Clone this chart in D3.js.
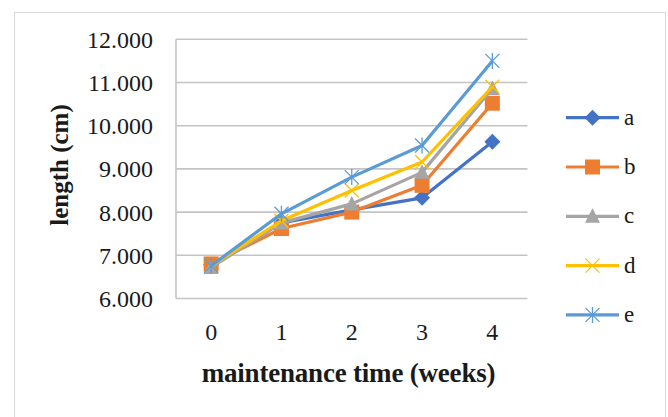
<!DOCTYPE html>
<html>
<head>
<meta charset="utf-8">
<script src="https://cdn.jsdelivr.net/npm/d3@7"></script>
<style>
	body { margin: 0; background: #fff; }
	text { font-family: "Liberation Serif", serif; fill: #1a1a1a; }
</style>
</head>
<body>
<div class="chart"></div>
<script>
// data
var weeks = ["0", "1", "2", "3", "4"];
var series_names = ["a", "b", "c", "d", "e"];
var a_vals = [6.78, 7.75, 8.05, 8.33, 9.63];
var b_vals = [6.80, 7.62, 8.00, 8.62, 10.52];
var c_vals = [6.72, 7.75, 8.19, 8.92, 10.86];
var d_vals = [6.76, 7.80, 8.50, 9.16, 10.90];
var e_vals = [6.76, 7.96, 8.81, 9.54, 11.50];
var y_ticks = [6, 7, 8, 9, 10, 11, 12];

var colors = ["#4472c4", "#ed7d31", "#a5a5a5", "#ffc000", "#5b9bd5"];
var shapes = ["diamond", "square", "triangle", "x", "star"];

var series = [a_vals, b_vals, c_vals, d_vals, e_vals].map(function(vals, i){
	return { name: series_names[i], values: vals, color: colors[i], shape: shapes[i] };
});

var W = 668, H = 417;
var plot = {left: 176, right: 527.5, top: 39.3, bottom: 298.5};

var svg = d3.select(".chart").append("svg")
	.attr("width", W)
	.attr("height", H);

// outer frame
svg.append("rect")
	.attr("x", 14.5).attr("y", 12.5)
	.attr("width", 651).attr("height", 420)
	.style("fill", "none")
	.style("stroke", "#d9d9d9")
	.style("stroke-width", 1);

var x = d3.scalePoint()
	.domain(weeks)
	.range([plot.left, plot.right])
	.padding(0.5);

var y = d3.scaleLinear()
	.domain([6, 12])
	.range([plot.bottom, plot.top]);

// gridlines
svg.append("g").selectAll("line")
	.data(y_ticks)
	.enter().append("line")
		.attr("x1", plot.left)
		.attr("x2", plot.right)
		.attr("y1", function(d){ return y(d); })
		.attr("y2", function(d){ return y(d); })
		.style("stroke", "#c4c4c4")
		.style("stroke-width", 1.6);

// left axis line
svg.append("line")
	.attr("x1", plot.left).attr("x2", plot.left)
	.attr("y1", plot.top).attr("y2", plot.bottom)
	.style("stroke", "#c4c4c4")
	.style("stroke-width", 1.6);

// y tick labels
var fmt = d3.format(".3f");
svg.append("g").selectAll("text")
	.data(y_ticks)
	.enter().append("text")
		.attr("x", 153)
		.attr("y", function(d){ return y(d) + 8.5; })
		.attr("text-anchor", "end")
		.style("font-size", "24px")
		.text(function(d){ return fmt(d); });

// x tick labels
svg.append("g").selectAll("text")
	.data(weeks)
	.enter().append("text")
		.attr("x", function(d){ return x(d); })
		.attr("y", 339.5)
		.attr("text-anchor", "middle")
		.style("font-size", "24px")
		.text(function(d){ return d; });

// axis titles
svg.append("text")
	.attr("x", 348.5)
	.attr("y", 381.5)
	.attr("text-anchor", "middle")
	.style("font-size", "27px")
	.style("font-weight", "bold")
	.style("letter-spacing", "-0.2px")
	.text("maintenance time (weeks)");

svg.append("text")
	.attr("transform", "translate(67.5,165) rotate(-90)")
	.attr("text-anchor", "middle")
	.style("font-size", "25px")
	.style("font-weight", "bold")
	.text("length (cm)");

function drawMarker(g, shape, color){
	var s = 8;
	if (shape == "diamond"){
		g.append("path").attr("d", "M0," + (-s) + "L" + s + ",0L0," + s + "L" + (-s) + ",0Z")
			.style("fill", color);
	} else if (shape == "square"){
		g.append("rect").attr("x", -7.5).attr("y", -7.5).attr("width", 15).attr("height", 15)
			.style("fill", color);
	} else if (shape == "triangle"){
		g.append("path").attr("d", "M0,-8L7.5,6.5L-7.5,6.5Z")
			.style("fill", color);
	} else {
		var r = 7;
		var p = "M" + (-r) + "," + (-r) + "L" + r + "," + r + "M" + (-r) + "," + r + "L" + r + "," + (-r);
		if (shape == "star") p += "M0," + (-r - 1) + "L0," + (r + 1);
		g.append("path").attr("d", p)
			.style("fill", "none")
			.style("stroke", color)
			.style("stroke-width", 1.3);
	}
}

var line = d3.line()
	.x(function(d, i){ return x(weeks[i]); })
	.y(function(d){ return y(d); });

series.forEach(function(s){
	var g = svg.append("g").attr("class", "series series-" + s.name);
	g.append("path")
		.attr("d", line(s.values))
		.style("fill", "none")
		.style("stroke", s.color)
		.style("stroke-width", 3.2)
		.style("stroke-linejoin", "round");
	s.values.forEach(function(v, i){
		var m = g.append("g").attr("transform", "translate(" + x(weeks[i]) + "," + y(v) + ")");
		drawMarker(m, s.shape, s.color);
	});
});

// legend
var legend = svg.append("g").selectAll("g")
	.data(series)
	.enter().append("g")
		.attr("transform", function(d, i){ return "translate(566," + (117.7 + i * 49.3) + ")"; });

legend.append("line")
	.attr("x1", 0).attr("x2", 53)
	.style("stroke", function(d){ return d.color; })
	.style("stroke-width", 3.2);

legend.each(function(d){
	var m = d3.select(this).append("g").attr("transform", "translate(26.5,0)");
	drawMarker(m, d.shape, d.color);
});

legend.append("text")
	.attr("x", 58)
	.attr("dy", "0.3em")
	.style("font-size", "23px")
	.text(function(d){ return d.name; });
</script>
</body>
</html>
